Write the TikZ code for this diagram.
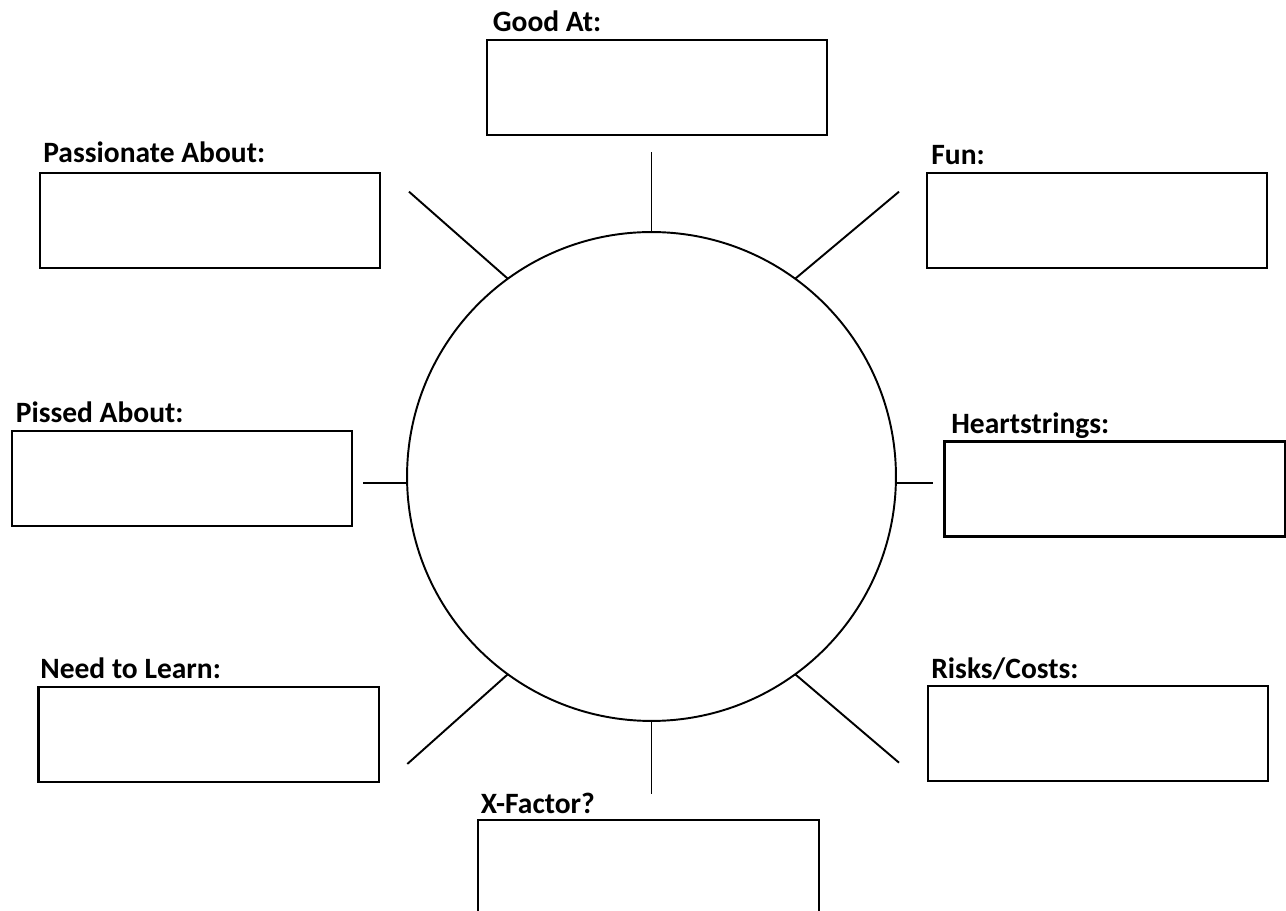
\documentclass[tikz,border=0pt]{standalone}
\usepackage{fontspec}
\setmainfont{Carlito}
\usepackage{tikz}

\begin{document}
\begin{tikzpicture}[x=0.02cm, y=-0.02cm,
    answer/.style={draw, line width=1.2pt, minimum width=6.81cm, minimum height=1.9cm,
        inner sep=0pt, outer sep=0pt, anchor=north west},
    heading/.style={anchor=base west, inner sep=0pt, font=\fontsize{16.8}{20}\selectfont\bfseries},
    spoke/.style={line width=1.1pt}]

    % Page frame
    \useasboundingbox (0, 0) rectangle (1286, 911);
    \clip (0, 0) rectangle (1286, 911);

    % Centre circle
    \node[draw, circle, line width=1.1pt, minimum size=9.78cm, inner sep=0pt, outer sep=0pt]
        (hub) at (651.5, 476.5) {};

    % Answer boxes
    \node[answer] (good) at (486.7, 40) {};
    \node[answer] (passion) at (40, 173.3) {};
    \node[answer] (fun) at (927, 173.3) {};
    \node[answer] (pissed) at (11.7, 431) {};
    \node[answer] (heart) at (944.5, 441.5) {};
    \node[answer] (learn) at (38.5, 687) {};
    \node[answer] (risks) at (927.7, 686) {};
    \node[answer] (xfactor) at (478.3, 820) {};

    % Headings above the boxes
    \node[heading] (goodlbl) at (492.5, 32) {Good At:};
    \node[heading] (passionlbl) at (43, 163) {Passionate About:};
    \node[heading] (funlbl) at (931, 165) {Fun:};
    \node[heading] (pissedlbl) at (15.5, 423) {Pissed About:};
    \node[heading] (heartlbl) at (951, 433.5) {Heartstrings:};
    \node[heading] (learnlbl) at (40, 678.5) {Need to Learn:};
    \node[heading] (riskslbl) at (931, 678.5) {Risks/Costs:};
    \node[heading] (xfactorlbl) at (480.5, 813.5) {X-Factor?};

    % Free ends of the spokes
    \coordinate (topend) at (651.5, 151.7);
    \coordinate (ulend) at (409, 191.7);
    \coordinate (urend) at (899, 191.7);
    \coordinate (lend) at (363.3, 483.3);
    \coordinate (rend) at (932.7, 483.3);
    \coordinate (llend) at (407.3, 764);
    \coordinate (lrend) at (899, 762.7);
    \coordinate (botend) at (651.5, 794.3);

    % Slanted and vertical spokes out of the circle
    \foreach \a/\e in {90/topend, 126/ulend, 54/urend,
                       234/llend, 306/lrend, 270/botend} {
        \draw[spoke] (hub.\a) -- (\e);
    }

    % Level spokes left and right
    \draw[spoke] (lend) -- (lend -| hub.west);
    \draw[spoke] (rend) -- (rend -| hub.east);
\end{tikzpicture}
\end{document}
